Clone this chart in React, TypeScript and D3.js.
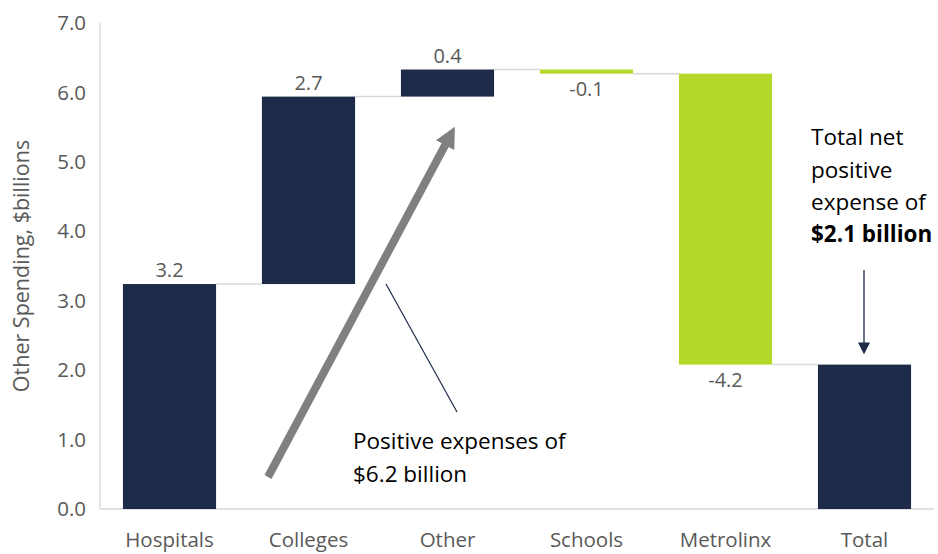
import React from "react";
import * as d3 from "d3";

const categories = ["Hospitals", "Colleges", "Other", "Schools", "Metrolinx", "Total"];
const changes = [3.24, 2.70, 0.39, -0.06, -4.19, 2.08];
const labels = ["3.2", "2.7", "0.4", "-0.1", "-4.2", ""];
const isTotal = [false, false, false, false, false, true];
const yTicks = [0, 1, 2, 3, 4, 5, 6, 7];

const W = 938, H = 554;
const margin = { left: 100, right: 4, top: 23, bottom: 45 };
const NAVY = "#1d2b49";
const GREEN = "#b4d82a";
const FONT = "'Open Sans', 'Noto Sans', sans-serif";

export default function App() {
  const x = d3.scaleBand<string>().domain(categories).range([margin.left, W - margin.right]).paddingInner(0.33).paddingOuter(0.165);
  const y = d3.scaleLinear().domain([0, 7]).range([H - margin.bottom, margin.top]);

  let cum = 0;
  const bars = categories.map((c, i) => {
    let start: number, end: number;
    if (isTotal[i]) { start = 0; end = changes[i]; }
    else { start = cum; end = cum + changes[i]; cum = end; }
    return { c, start, end, neg: changes[i] < 0, total: isTotal[i], label: labels[i] };
  });

  const bw = x.bandwidth();
  return (
    <svg width={W} height={H} style={{ position: "absolute", left: 0, top: 0, background: "#fff" }} fontFamily={FONT}>
      <defs>
        <marker id="grayHead" viewBox="0 0 10 10" refX="5" refY="5" markerWidth="2.6" markerHeight="2.6" orient="auto">
          <path d="M0,0 L10,5 L0,10 z" fill="#808080" />
        </marker>
        <marker id="navyHead" viewBox="0 0 10 10" refX="8" refY="5" markerWidth="12" markerHeight="12" markerUnits="userSpaceOnUse" orient="auto">
          <path d="M0,0 L10,5 L0,10 z" fill={NAVY} />
        </marker>
      </defs>
      {/* axes */}
      <line x1={margin.left} x2={margin.left} y1={y(7)} y2={y(0)} stroke="#d9d9d9" strokeWidth={1.3} />
      <line x1={margin.left} x2={W - margin.right} y1={y(0)} y2={y(0)} stroke="#d9d9d9" strokeWidth={1.3} />
      {yTicks.map(t => (
        <text key={t} x={margin.left - 14} y={y(t)} dy="0.35em" textAnchor="end" fontSize={20.5} fill="#595959">{t.toFixed(1)}</text>
      ))}
      <text transform={`translate(29,${(y(0) + y(7)) / 2}) rotate(-90)`} textAnchor="middle" fontSize={21.5} fill="#595959">Other Spending, $billions</text>
      {categories.map(c => (
        <text key={c} x={(x(c) as number) + bw / 2} y={H - 7} textAnchor="middle" fontSize={20.5} fill="#595959">{c}</text>
      ))}
      {/* connectors */}
      {bars.slice(0, -1).map((b, i) => {
        const next = categories[i + 1];
        return <line key={"c" + i} x1={(x(b.c) as number) + bw} x2={x(next) as number} y1={y(b.end)} y2={y(b.end)} stroke="#d9d9d9" strokeWidth={1.5} />;
      })}
      {/* bars */}
      {bars.map(b => (
        <rect key={b.c} x={x(b.c)} width={bw} y={y(Math.max(b.start, b.end))} height={Math.abs(y(b.start) - y(b.end))} fill={b.neg ? GREEN : NAVY} />
      ))}
      {bars.map(b => b.label && (
        <text key={"l" + b.c} x={(x(b.c) as number) + bw / 2} y={b.neg ? y(Math.min(b.start, b.end)) + 22 : y(b.end) - 7} textAnchor="middle" fontSize={20} fill="#595959">{b.label}</text>
      ))}
      {/* annotations */}
      <line x1={268} y1={477} x2={450} y2={136} stroke="#808080" strokeWidth={8} markerEnd="url(#grayHead)" />
      <line x1={386} y1={284} x2={457} y2={412} stroke={NAVY} strokeWidth={1.2} />
      <text x={353} y={449} fontSize={22.5} fill="#000">Positive expenses of</text>
      <text x={353} y={482} fontSize={22.5} fill="#000">$6.2 billion</text>
      <text x={811} y={145} fontSize={22.5} fill="#000">Total net</text>
      <text x={811} y={178} fontSize={22.5} fill="#000">positive</text>
      <text x={811} y={210} fontSize={22.5} fill="#000">expense of</text>
      <text x={811} y={242} fontSize={22.5} fill="#000" fontWeight="bold">$2.1 billion</text>
      <line x1={864} y1={270} x2={864} y2={352} stroke={NAVY} strokeWidth={1.3} markerEnd="url(#navyHead)" />
    </svg>
  );
}
